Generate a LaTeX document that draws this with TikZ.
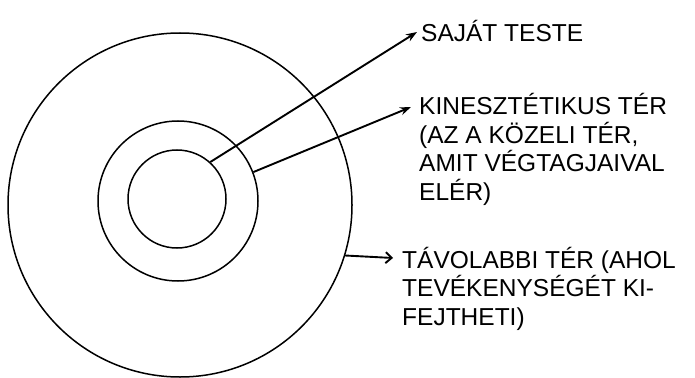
\documentclass[tikz,border=0pt]{standalone}
\usepackage{fontspec}
\setmainfont{Liberation Sans}
\usepackage{tikz}
\usetikzlibrary{arrows.meta}
\usetikzlibrary{positioning}

\tikzset{
    ring/.style={draw, circle, inner sep=0pt, line width=1.5pt},
    pointer/.style={line width=1.9pt, -{Stealth[length=11pt, width=8pt]}},
    label text/.style={inner sep=0pt, anchor=base west, align=left,
        font=\fontsize{24.5}{28.5}\selectfont},
}

\begin{document}
\begin{tikzpicture}[x=1pt, y=-1pt]
    \useasboundingbox (0,0) rectangle (695,377);

    \node[ring, minimum size=344pt] (outer) at (180,205) {};
    \node[ring, minimum size=160pt] (middle) at (178,201) {};
    \node[ring, minimum size=98pt] (inner) at (177,199) {};

    % base of a multi-line text is its last line
    \node[label text] (own) at (421,42) {SAJÁT TESTE};
    \node[label text] (kin) at (419,200) {KINESZTÉTIKUS TÉR\\(AZ A KÖZELI TÉR,\\AMIT VÉGTAGJAIVAL\\ELÉR)};
    \node[label text] (far) at (402,325) {TÁVOLABBI TÉR (AHOL\\TEVÉKENYSÉGÉT KI-\\FEJTHETI)};

    \coordinate (own tip) at (417,32);
    \coordinate (kin tip) at (411,107);
    \coordinate (far tip) at (393,258);

    \draw[pointer] (inner.48) -- (own tip);
    \draw[pointer] (middle.21) -- (kin tip);
    \draw[line width=1.9pt, -{Straight Barb[length=6pt, width=11pt]}] (outer.-17) -- (far tip);
\end{tikzpicture}
\end{document}
